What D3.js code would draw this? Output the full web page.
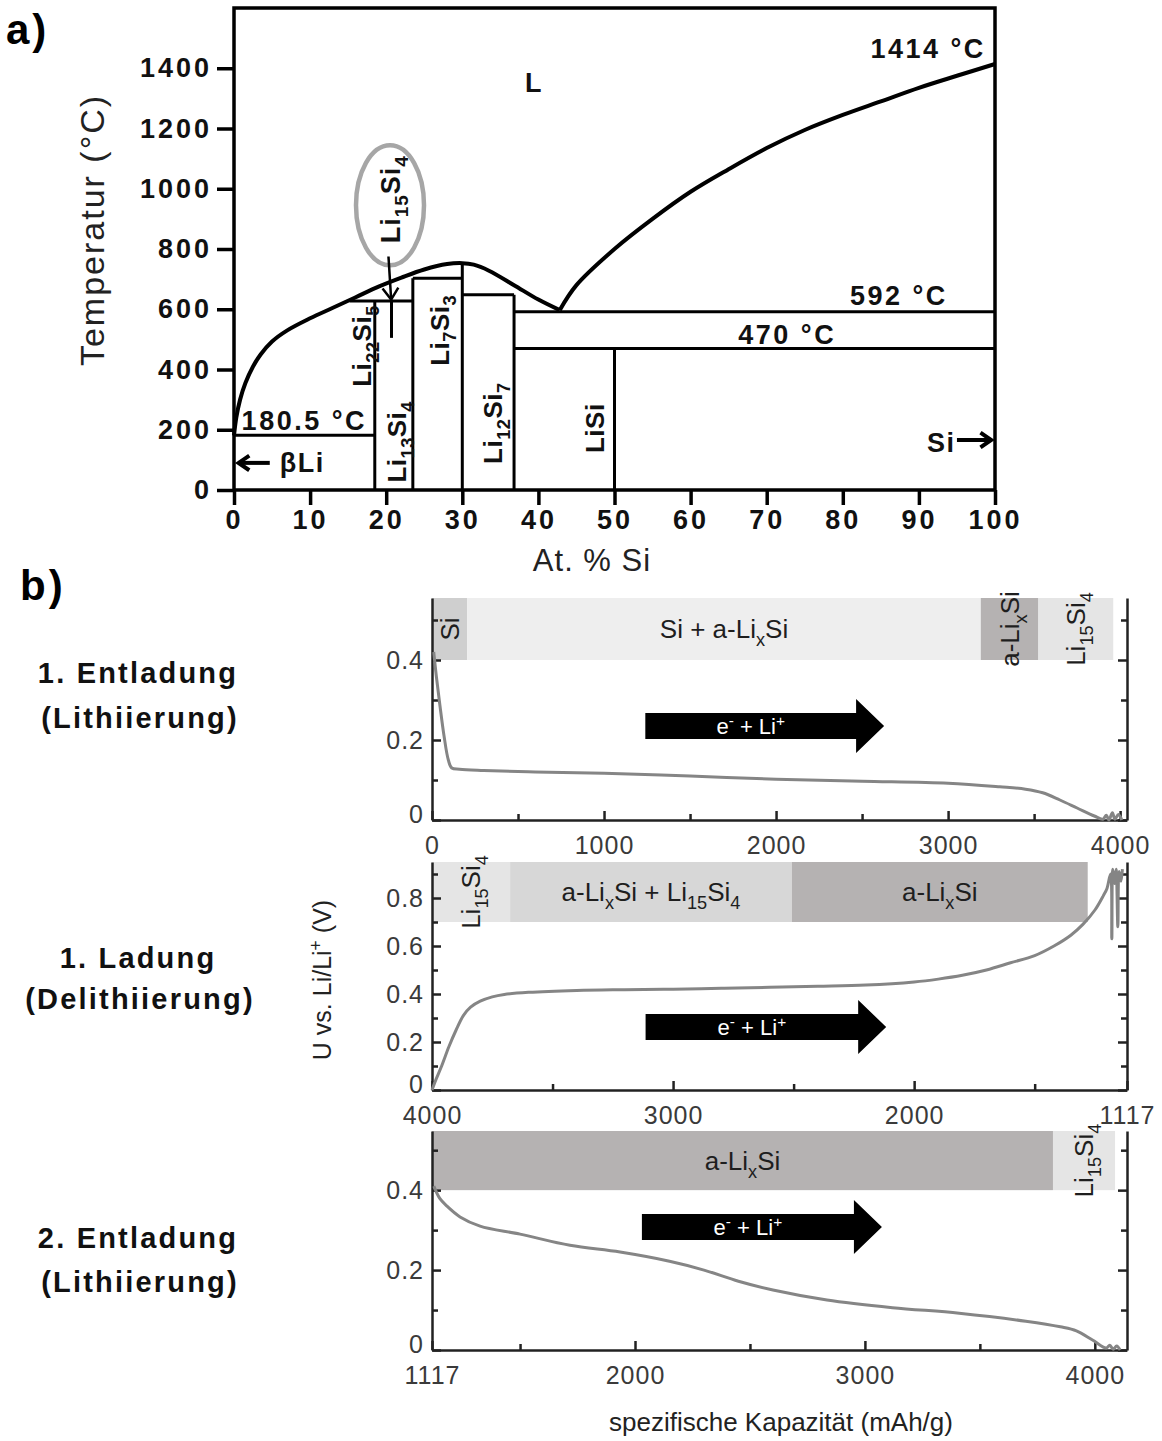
<!DOCTYPE html>
<html>
<head>
<meta charset="utf-8">
<script src="https://cdn.jsdelivr.net/npm/d3@7"></script>
<style>
body { margin: 0; background: #fff; }
svg { display: block; font-family: "Liberation Sans", Arial, sans-serif; }
</style>
</head>
<body>
<div id="chart"></div>
<script>
// ---------- data, panel a: Li-Si phase diagram (at.% Si, °C) ----------
const tempTicks = [0, 200, 400, 600, 800, 1000, 1200, 1400];
const siTicks = [0, 10, 20, 30, 40, 50, 60, 70, 80, 90, 100];

// liquidus on the Li-rich side, up to the eutectic
const liquidusLi = [[0, 181], [0.3, 240], [0.8, 300], [1.5, 355], [2.5, 410], [3.5, 450], [5, 493],
  [7, 530], [10, 570], [13, 605], [16, 640], [19, 675], [22, 705], [25, 732], [28, 750], [30, 753],
  [31.5, 748], [33.5, 728], [36.8, 680], [40, 632], [42.8, 597]];
// liquidus on the Si-rich side
const liquidusSi = [[42.8, 597], [45, 680], [50, 800], [55, 900], [60, 990], [65, 1065], [70, 1135],
  [75, 1195], [80, 1245], [85, 1290], [90, 1335], [95, 1375], [100, 1414]];

// phase boundaries [si1, T1, si2, T2]
const boundaries = [
  [0, 182, 18.5, 182],
  [18.5, 0, 18.5, 627],
  [15.2, 627, 23.5, 627],
  [23.5, 0, 23.5, 703],
  [23.5, 703, 30, 703],
  [30, 0, 30, 752],
  [30, 648, 36.8, 648],
  [36.8, 0, 36.8, 648],
  [36.8, 592, 100, 592],
  [36.8, 470, 100, 470],
  [50, 0, 50, 470],
  [20.7, 505, 20.7, 630]
];

const phaseLabels = [
  { text: "Li_{22}Si_{5}", si: 16.8, t: 478 },
  { text: "Li_{13}Si_{4}", si: 21.4, t: 160 },
  { text: "Li_{7}Si_{3}", si: 27, t: 530 },
  { text: "Li_{12}Si_{7}", si: 34, t: 222 },
  { text: "LiSi", si: 47.4, t: 205 }
];
const tempLabels = [
  { text: "1414 °C", si: 98.8, t: 1433, anchor: "end" },
  { text: "592 °C", si: 93.8, t: 614, anchor: "end" },
  { text: "470 °C", si: 72.7, t: 484, anchor: "middle" },
  { text: "180.5 °C", si: 1, t: 199, anchor: "start" },
  { text: "L", si: 39.5, t: 1320, anchor: "middle" }
];

// ---------- data, panel b: voltage profiles ----------
const cycleNames = ["1. Entladung", "1. Ladung", "2. Entladung"];
const cycleModes = ["(Lithiierung)", "(Delithiierung)", "(Lithiierung)"];
const capDomains = [[0, 4040], [4000, 1117], [1117, 4140]];
const capTickLabels = [[0, 1000, 2000, 3000, 4000], [4000, 3000, 2000, 1117], [1117, 2000, 3000, 4000]];
const capMinorTicks = [[500, 1500, 2500, 3500], [3500, 2500, 1500], [1500, 2500, 3500]];
const voltMax = [0.555, 0.95, 0.548];
const voltTicks = [[0, 0.2, 0.4], [0, 0.2, 0.4, 0.6, 0.8], [0, 0.2, 0.4]];
const voltMinor = [[0.1, 0.3, 0.5], [0.1, 0.3, 0.5, 0.7, 0.9], [0.1, 0.3, 0.5]];
const bandFloor = [0.4, 0.7, 0.4];

const bands1 = [
  { phase: "Si", from: 0, to: 205 },
  { phase: "Si + a-Li_{x}Si", from: 205, to: 3190 },
  { phase: "a-Li_{x}Si", from: 3190, to: 3525 },
  { phase: "Li_{15}Si_{4}", from: 3525, to: 3960 }
];
const bands2 = [
  { phase: "Li_{15}Si_{4}", from: 4000, to: 3676 },
  { phase: "a-Li_{x}Si + Li_{15}Si_{4}", from: 3676, to: 2507 },
  { phase: "a-Li_{x}Si", from: 2507, to: 1280 }
];
const bands3 = [
  { phase: "a-Li_{x}Si", from: 1117, to: 3818 },
  { phase: "Li_{15}Si_{4}", from: 3818, to: 4088 }
];

const discharge1 = [[10, 0.42], [25, 0.36], [45, 0.29], [70, 0.21], [95, 0.15], [115, 0.13], [160, 0.127],
  [300, 0.124], [600, 0.12], [1000, 0.117], [1500, 0.11], [2000, 0.102], [2500, 0.097], [3000, 0.092],
  [3300, 0.083], [3450, 0.077], [3550, 0.068], [3650, 0.05], [3750, 0.03], [3850, 0.01], [3900, 0.002],
  [3920, 0.012], [3935, 0.0], [3955, 0.018], [3970, 0.002], [3990, 0.014], [4010, 0.0]];
const charge1 = [[4000, 0.0], [3985, 0.04], [3960, 0.1], [3930, 0.18], [3900, 0.25], [3870, 0.31],
  [3840, 0.345], [3800, 0.37], [3750, 0.388], [3700, 0.398], [3600, 0.407], [3400, 0.415], [3200, 0.418],
  [3000, 0.42], [2800, 0.424], [2600, 0.428], [2400, 0.432], [2200, 0.437], [2000, 0.45], [1900, 0.462],
  [1800, 0.478], [1700, 0.5], [1600, 0.53], [1500, 0.56], [1420, 0.6], [1350, 0.645], [1300, 0.69],
  [1250, 0.75], [1215, 0.81], [1200, 0.84], [1185, 0.9], [1180, 0.63], [1176, 0.92], [1168, 0.86],
  [1162, 0.92], [1155, 0.68], [1150, 0.91], [1142, 0.87], [1136, 0.92]];
const discharge2 = [[1125, 0.41], [1150, 0.38], [1182, 0.36], [1239, 0.333], [1326, 0.31], [1500, 0.29],
  [1717, 0.262], [1935, 0.245], [2150, 0.222], [2300, 0.2], [2450, 0.172], [2600, 0.15], [2835, 0.125],
  [3120, 0.106], [3410, 0.092], [3700, 0.072], [3850, 0.058], [3920, 0.048], [3990, 0.025], [4050, 0.005],
  [4065, 0.012], [4080, 0.002], [4095, 0.01], [4110, 0.0]];

const arrowFrom = [1240, 3114, 2030];
const arrowTo = [2628, 2116, 3074];
const arrowLevel = [0.235, 0.2625, 0.3075];

const cycleBands = [bands1, bands2, bands3];
const cycleCurves = [discharge1, charge1, discharge2];

// ---------- helpers ----------
const phaseShade = {
  "Si": "#cfcfcf",
  "Si + a-Li_{x}Si": "#eeeeee",
  "a-Li_{x}Si": "#b5b2b2",
  "Li_{15}Si_{4}": "#e5e5e5",
  "a-Li_{x}Si + Li_{15}Si_{4}": "#d7d7d7"
};

// writes "Li_{15}Si^{+}" style strings as tspans
function richText(sel, str, fs, baseDy) {
  const re = /([_^])\{([^}]*)\}|([^_^]+)/g;
  let m, shift = 0, first = true;
  sel.attr("font-size", fs);
  while ((m = re.exec(str)) !== null) {
    const mode = m[1];
    const target = mode === "_" ? fs * 0.3 : mode === "^" ? -fs * 0.38 : 0;
    sel.append("tspan")
      .attr("dy", target - shift + (first ? baseDy : 0))
      .attr("font-size", mode ? fs * 0.7 : fs)
      .text(mode ? m[2] : m[3]);
    shift = target;
    first = false;
  }
  return sel;
}

const svg = d3.select("#chart").append("svg").attr("width", 1162).attr("height", 1441);

// ---------- panel a ----------
const xa = d3.scaleLinear().domain([0, 100]).range([234, 995]);
const ya = d3.scaleLinear().domain([0, 1600]).range([490, 8]);
const ga = svg.append("g");

ga.append("text").attr("x", 6).attr("y", 44).attr("font-size", 42).attr("font-weight", "bold")
  .attr("letter-spacing", 3).text("a)");

const axL = ga.append("g").attr("transform", `translate(${xa(0)},0)`)
  .call(d3.axisLeft(ya).tickValues(tempTicks).tickSize(17).tickSizeOuter(0).tickPadding(5).tickFormat(d3.format("d")));
const axB = ga.append("g").attr("transform", `translate(0,${ya(0)})`)
  .call(d3.axisBottom(xa).tickValues(siTicks).tickSize(15).tickSizeOuter(0).tickPadding(5).tickFormat(d3.format("d")));
[axL, axB].forEach(ax => {
  ax.select(".domain").remove();
  ax.selectAll(".tick line").attr("stroke", "#000").attr("stroke-width", 3.5);
  ax.selectAll(".tick text").attr("font-size", 27).attr("font-weight", "bold")
    .attr("letter-spacing", 3).attr("fill", "#111").attr("font-family", null);
});

// boundaries
boundaries.forEach(b => {
  ga.append("line").attr("x1", xa(b[0])).attr("y1", ya(b[1])).attr("x2", xa(b[2])).attr("y2", ya(b[3]))
    .attr("stroke", "#000").attr("stroke-width", 3);
});

const liq = d3.line().x(d => xa(d[0])).y(d => ya(d[1])).curve(d3.curveCatmullRom.alpha(0.5));
[liquidusLi, liquidusSi].forEach(c => {
  ga.append("path").attr("d", liq(c)).attr("fill", "none").attr("stroke", "#000")
    .attr("stroke-width", 4).attr("stroke-linejoin", "round");
});

ga.append("rect").attr("x", xa(0)).attr("y", ya(1600)).attr("width", xa(100) - xa(0))
  .attr("height", ya(0) - ya(1600)).attr("fill", "none").attr("stroke", "#000").attr("stroke-width", 3.5);

phaseLabels.forEach(p => {
  const t = ga.append("text").attr("transform", `translate(${xa(p.si)},${ya(p.t)}) rotate(-90)`)
    .attr("text-anchor", "middle").attr("font-weight", "bold").attr("letter-spacing", 0.5).attr("fill", "#111");
  richText(t, p.text, 26, 26 * 0.35);
});
tempLabels.forEach(p => {
  ga.append("text").attr("x", xa(p.si)).attr("y", ya(p.t)).attr("text-anchor", p.anchor)
    .attr("font-size", 27).attr("font-weight", "bold").attr("letter-spacing", 2.5).attr("fill", "#111")
    .text(p.text);
});

// Li15Si4 highlight
ga.append("ellipse").attr("cx", xa(20.5)).attr("cy", ya(945)).attr("rx", 34).attr("ry", 60)
  .attr("fill", "none").attr("stroke", "#a6a6a6").attr("stroke-width", 4.5);
richText(ga.append("text").attr("transform", `translate(${xa(20.6)},${ya(965)}) rotate(-90)`)
  .attr("text-anchor", "middle").attr("font-weight", "bold").attr("letter-spacing", 1).attr("fill", "#111"),
  "Li_{15}Si_{4}", 27, 27 * 0.35);

function arrowLine(g, x1, y1, x2, y2, head, w) {
  const ang = Math.atan2(y2 - y1, x2 - x1);
  g.append("line").attr("x1", x1).attr("y1", y1).attr("x2", x2).attr("y2", y2)
    .attr("stroke", "#000").attr("stroke-width", w);
  const p1 = [x2 - head * Math.cos(ang - 0.6), y2 - head * Math.sin(ang - 0.6)];
  const p2 = [x2 - head * Math.cos(ang + 0.6), y2 - head * Math.sin(ang + 0.6)];
  g.append("path").attr("d", `M${p1}L${x2},${y2}L${p2}`).attr("fill", "none")
    .attr("stroke", "#000").attr("stroke-width", w).attr("stroke-linejoin", "miter");
}
arrowLine(ga, xa(20.3), ya(775), xa(20.65), ya(632), 14, 2.5);
arrowLine(ga, xa(4.7), ya(90), xa(0.6), ya(90), 13, 4);
arrowLine(ga, xa(95), ya(166), xa(99.5), ya(166), 13, 4);
ga.append("text").attr("x", xa(6)).attr("y", ya(60)).attr("font-size", 27).attr("font-weight", "bold")
  .attr("letter-spacing", 1.5).attr("fill", "#111").text("βLi");
ga.append("text").attr("x", xa(94.8)).attr("y", ya(126)).attr("text-anchor", "end").attr("font-size", 27)
  .attr("font-weight", "bold").attr("letter-spacing", 1.5).attr("fill", "#111").text("Si");

ga.append("text").attr("transform", "translate(92,230) rotate(-90)").attr("text-anchor", "middle")
  .attr("dy", 12).attr("font-size", 34).attr("letter-spacing", 2).attr("fill", "#222").text("Temperatur (°C)");
ga.append("text").attr("x", 592).attr("y", 571).attr("text-anchor", "middle").attr("font-size", 31)
  .attr("letter-spacing", 1).attr("fill", "#222").text("At. % Si");

// ---------- panel b ----------
const plotLeft = 432, plotRight = 1127;
const cycleLayout = [
  { top: 598, bottom: 820, nameY: 683, modeY: 728 },
  { top: 862, bottom: 1090, nameY: 968, modeY: 1009 },
  { top: 1131, bottom: 1350, nameY: 1248, modeY: 1292 }
];

svg.append("text").attr("x", 20).attr("y", 600).attr("font-size", 42).attr("font-weight", "bold")
  .attr("letter-spacing", 3).text("b)");

cycleLayout.forEach((lay, i) => {
  const g = svg.append("g");
  const x = d3.scaleLinear().domain(capDomains[i]).range([plotLeft, plotRight]);
  const y = d3.scaleLinear().domain([0, voltMax[i]]).range([lay.bottom, lay.top]);

  // phase bands
  cycleBands[i].forEach(b => {
    const x0 = Math.min(x(b.from), x(b.to)), x1 = Math.max(x(b.from), x(b.to));
    g.append("rect").attr("x", x0).attr("y", y(voltMax[i])).attr("width", x1 - x0)
      .attr("height", y(bandFloor[i]) - y(voltMax[i])).attr("fill", phaseShade[b.phase]);
  });
  cycleBands[i].forEach(b => {
    const cx = (x(b.from) + x(b.to)) / 2, cy = (y(voltMax[i]) + y(bandFloor[i])) / 2;
    const narrow = Math.abs(x(b.to) - x(b.from)) < 100;
    const t = g.append("text").attr("text-anchor", "middle").attr("fill", "#1e1e1e")
      .attr("transform", narrow ? `translate(${cx},${cy}) rotate(-90)` : `translate(${cx},${cy})`);
    richText(t, b.phase, 26, 26 * 0.36);
  });

  // axes
  const left = g.append("g").attr("transform", `translate(${plotLeft},0)`)
    .call(d3.axisLeft(y).tickValues(voltTicks[i]).tickSize(-9).tickSizeOuter(0).tickPadding(8)
      .tickFormat(d => d === 0 ? "0" : d.toFixed(1)));
  const leftMinor = g.append("g").attr("transform", `translate(${plotLeft},0)`)
    .call(d3.axisLeft(y).tickValues(voltMinor[i].filter(v => v < voltMax[i])).tickSize(-6).tickFormat(""));
  const right = g.append("g").attr("transform", `translate(${plotRight},0)`)
    .call(d3.axisRight(y).tickValues(voltTicks[i]).tickSize(-9).tickSizeOuter(0).tickFormat(""));
  const rightMinor = g.append("g").attr("transform", `translate(${plotRight},0)`)
    .call(d3.axisRight(y).tickValues(voltMinor[i].filter(v => v < voltMax[i])).tickSize(-6).tickFormat(""));
  const bottom = g.append("g").attr("transform", `translate(0,${lay.bottom})`)
    .call(d3.axisBottom(x).tickValues(capTickLabels[i]).tickSize(-9).tickSizeOuter(0).tickPadding(16)
      .tickFormat(d3.format("d")));
  const bottomMinor = g.append("g").attr("transform", `translate(0,${lay.bottom})`)
    .call(d3.axisBottom(x).tickValues(capMinorTicks[i]).tickSize(-6).tickFormat(""));
  [leftMinor, rightMinor, bottomMinor].forEach(a => a.select(".domain").remove());
  [left, leftMinor, right, rightMinor, bottom, bottomMinor].forEach(a => {
    a.selectAll(".tick line").attr("stroke", "#222").attr("stroke-width", 2.5);
    a.select(".domain").attr("stroke", "#222").attr("stroke-width", 2.5);
    a.selectAll(".tick text").attr("font-size", 25).attr("letter-spacing", 1).attr("fill", "#3a3a3a")
      .attr("font-family", null);
  });
  // the "0" sits just above the first capacity label, as in the original
  left.selectAll(".tick text").filter(d => d === 0).attr("dy", "0.1em");

  // voltage curve
  const line = d3.line().x(d => x(d[0])).y(d => y(d[1])).curve(d3.curveCatmullRom.alpha(0.5));
  g.append("path").attr("d", line(cycleCurves[i])).attr("fill", "none").attr("stroke", "#858585")
    .attr("stroke-width", 3).attr("stroke-linejoin", "round");

  // e- + Li+ arrow
  const ax0 = x(arrowFrom[i]), ax1 = x(arrowTo[i]), ay = y(arrowLevel[i]);
  const headStart = ax1 - 28;
  g.append("path")
    .attr("d", `M${ax0},${ay - 13}L${headStart},${ay - 13}L${headStart},${ay - 27}L${ax1},${ay}` +
      `L${headStart},${ay + 27}L${headStart},${ay + 13}L${ax0},${ay + 13}Z`)
    .attr("fill", "#000");
  richText(g.append("text").attr("x", (ax0 + headStart) / 2).attr("y", ay).attr("text-anchor", "middle")
    .attr("fill", "#fff"), "e^{-} + Li^{+}", 22, 8);

  // cycle titles on the left
  svg.append("text").attr("x", 138).attr("y", lay.nameY).attr("text-anchor", "middle").attr("font-size", 29)
    .attr("font-weight", "bold").attr("letter-spacing", 2.2).attr("fill", "#111").text(cycleNames[i]);
  svg.append("text").attr("x", 140).attr("y", lay.modeY).attr("text-anchor", "middle").attr("font-size", 29)
    .attr("font-weight", "bold").attr("letter-spacing", 2.2).attr("fill", "#111").text(cycleModes[i]);
});

richText(svg.append("text").attr("transform", "translate(322,980) rotate(-90)").attr("text-anchor", "middle")
  .attr("fill", "#222"), "U vs. Li/Li^{+} (V)", 25, 9);
svg.append("text").attr("x", 781).attr("y", 1431).attr("text-anchor", "middle").attr("font-size", 26)
  .attr("fill", "#222").text("spezifische Kapazität (mAh/g)");
</script>
</body>
</html>
